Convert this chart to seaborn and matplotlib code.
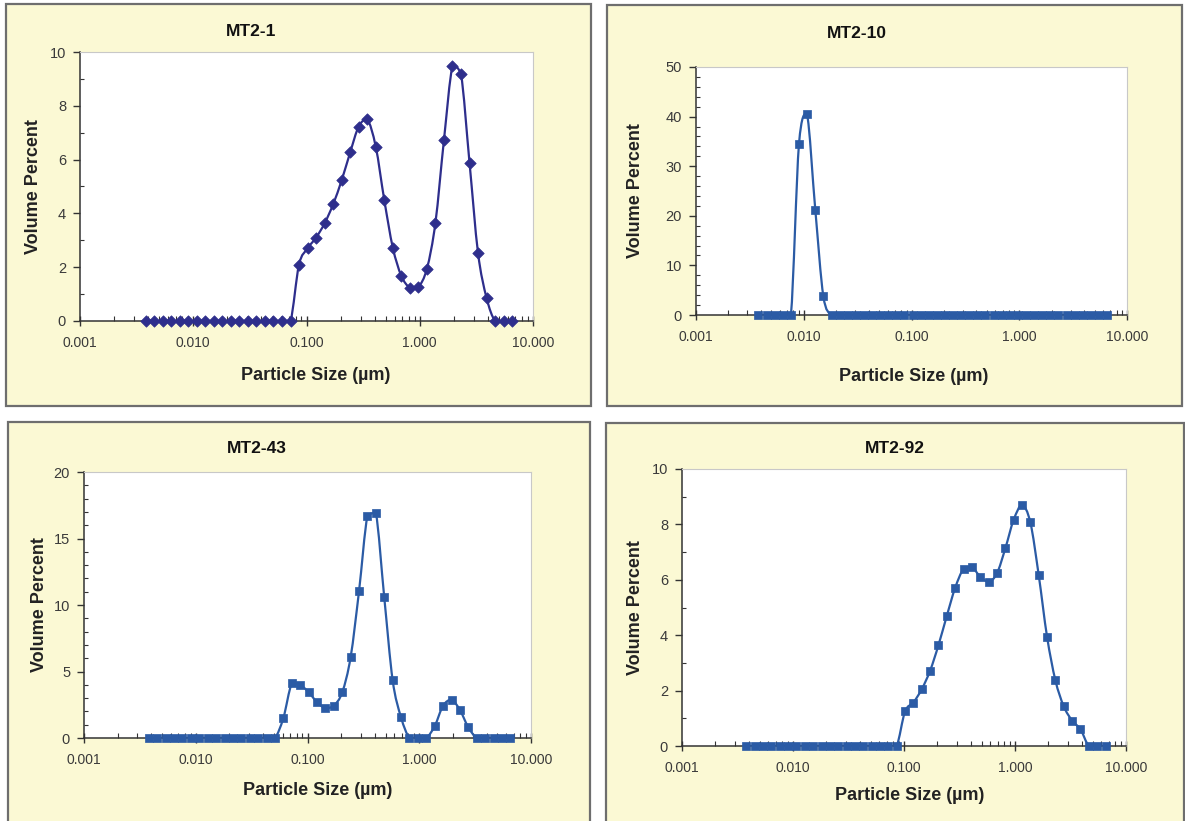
#Particle size distributions of four MT2 samples, one panel each
#Volume percent against particle size on a log axis

import numpy as np
import matplotlib
matplotlib.use("Agg")
import matplotlib.pyplot as plt
import seaborn as sns
from matplotlib.patches import Rectangle, PathPatch
from matplotlib.path import Path
from matplotlib.ticker import FixedLocator, FuncFormatter, LogLocator, MultipleLocator, NullFormatter

# channel sizes (um)
size_um = [0.00380, 0.00452, 0.00537, 0.00639, 0.00760, 0.00903, 0.0107, 0.0128,
           0.0152, 0.0181, 0.0215, 0.0255, 0.0304, 0.0361, 0.0430, 0.0511,
           0.0608, 0.0723, 0.0859, 0.1022, 0.1215, 0.1445, 0.1719, 0.2044,
           0.2431, 0.2890, 0.3437, 0.4088, 0.4861, 0.5781, 0.6874, 0.8175,
           0.972, 1.156, 1.375, 1.635, 1.945, 2.312, 2.750, 3.270,
           3.889, 4.624, 5.500, 6.540]

mt2_1 = [0, 0, 0, 0, 0, 0, 0, 0, 0, 0, 0, 0, 0, 0, 0, 0, 0, 0,
         2.1, 2.7, 3.1, 3.63, 4.34, 5.23, 6.27, 7.23, 7.5, 6.48, 4.5, 2.73,
         1.68, 1.24, 1.27, 1.94, 3.65, 6.72, 9.47, 9.18, 5.89, 2.53, 0.86,
         0, 0, 0]

mt2_10 = [0, 0, 0, 0, 0, 34.5, 40.6, 21.2, 3.8,
          0, 0, 0, 0, 0, 0, 0, 0, 0, 0, 0, 0, 0, 0, 0, 0, 0, 0, 0, 0, 0,
          0, 0, 0, 0, 0, 0, 0, 0, 0, 0, 0, 0, 0, 0]

mt2_43 = [0, 0, 0, 0, 0, 0, 0, 0, 0, 0, 0, 0, 0, 0, 0, 0,
          1.5, 4.1, 4.0, 3.45, 2.7, 2.25, 2.43, 3.43, 6.07, 11.03, 16.67, 16.92,
          10.58, 4.34, 1.55, 0, 0, 0, 0.9, 2.43, 2.88, 2.1, 0.8,
          0, 0, 0, 0, 0]

mt2_92 = [0, 0, 0, 0, 0, 0, 0, 0, 0, 0, 0, 0, 0, 0, 0, 0, 0, 0, 0,
          1.25, 1.57, 2.05, 2.72, 3.64, 4.7, 5.71, 6.39, 6.46, 6.11, 5.93,
          6.23, 7.13, 8.16, 8.7, 8.07, 6.17, 3.94, 2.37, 1.43, 0.92, 0.6,
          0, 0, 0]

titles = ["MT2-1", "MT2-10", "MT2-43", "MT2-92"]
x_ticks = [0.001, 0.01, 0.1, 1, 10]

W, H = 1185, 821


def fig_box(l, t, r, b):
    return [l / W, 1 - b / H, (r - l) / W, (b - t) / H]


def smooth_path(x, y):
    # smoothed line: cubic bezier in log-x space, control points kept
    # inside each segment's y range so it does not overshoot
    lx = np.log10(x)
    y = np.asarray(y, dtype=float)
    n = len(lx)
    verts = [(x[0], y[0])]
    codes = [Path.MOVETO]
    for i in range(n - 1):
        a = max(i - 1, 0)
        d = min(i + 2, n - 1)
        lo, hi = min(y[i], y[i + 1]), max(y[i], y[i + 1])
        c1x = lx[i] + (lx[i + 1] - lx[a]) / 6
        c1y = np.clip(y[i] + (y[i + 1] - y[a]) / 6, lo, hi)
        c2x = lx[i + 1] - (lx[d] - lx[i]) / 6
        c2y = np.clip(y[i + 1] - (y[d] - y[i]) / 6, lo, hi)
        verts += [(10 ** c1x, c1y), (10 ** c2x, c2y), (x[i + 1], y[i + 1])]
        codes += [Path.CURVE4] * 3
    return Path(verts, codes)


def main():
    sns.set_style("white")
    plt.rcParams["font.family"] = ["Liberation Sans", "DejaVu Sans"]

    fig = plt.figure(figsize=(W / 100, H / 100), dpi=100)
    fig.patch.set_facecolor("white")

    panels = [
        # panel box, plot box, title xy, ylabel x, xlabel xy
        dict(box=(6, 4, 591, 406), plot=(80, 52, 533, 321), title=(251, 32),
             ylab=34, xlab=(316, 375), data=mt2_1, ymax=10, major=2, minor=1,
             color="#2E2E8C", marker="D", ms=34),
        dict(box=(607, 5, 1182, 406), plot=(696, 67, 1127, 315), title=(857, 33),
             ylab=635, xlab=(914, 376), data=mt2_10, ymax=50, major=10, minor=2,
             color="#2B5BA5", marker="s", ms=28),
        dict(box=(8, 422, 590, 823), plot=(84, 472, 531, 738), title=(257, 448),
             ylab=40, xlab=(318, 790), data=mt2_43, ymax=20, major=5, minor=1,
             color="#2B5BA5", marker="s", ms=28),
        dict(box=(606, 423, 1184, 823), plot=(682, 469, 1126, 746), title=(895, 448),
             ylab=635, xlab=(910, 795), data=mt2_92, ymax=10, major=2, minor=1,
             color="#2B5BA5", marker="s", ms=28),
    ]

    for p, title in zip(panels, titles):
        l, t, r, b = p["box"]
        fig.add_artist(Rectangle((l / W, 1 - b / H), (r - l) / W, (b - t) / H,
                                 transform=fig.transFigure, facecolor="#FBF9D4",
                                 edgecolor="#6E6E6E", linewidth=1.6, zorder=0))

        pl, pt, pr, pb = p["plot"]
        ax = fig.add_axes(fig_box(pl, pt, pr, pb))
        ax.set_facecolor("white")
        ax.set_xscale("log")

        ax.add_patch(PathPatch(smooth_path(size_um, p["data"]), facecolor="none",
                               edgecolor=p["color"], linewidth=1.6, zorder=2))
        sns.scatterplot(x=size_um, y=p["data"], ax=ax, marker=p["marker"], s=p["ms"],
                        color=p["color"], edgecolor=p["color"], linewidth=0.5,
                        clip_on=False, zorder=3, legend=False)

        ax.set_xlim(0.001, 10)
        ax.set_ylim(0, p["ymax"])

        ax.xaxis.set_major_locator(FixedLocator(x_ticks))
        ax.xaxis.set_major_formatter(FuncFormatter(lambda v, pos: f"{v:.3f}"))
        ax.xaxis.set_minor_locator(LogLocator(base=10, subs=np.arange(2, 10), numticks=20))
        ax.xaxis.set_minor_formatter(NullFormatter())
        ax.yaxis.set_major_locator(MultipleLocator(p["major"]))
        ax.yaxis.set_minor_locator(MultipleLocator(p["minor"]))

        ax.tick_params(axis="x", which="major", direction="inout", length=7, width=1,
                       color="#333333", pad=7, labelsize=10, labelcolor="#3A3A3A")
        ax.tick_params(axis="x", which="minor", direction="in", length=3.5, width=0.8,
                       color="#333333")
        ax.tick_params(axis="y", which="major", direction="out", length=5, width=1,
                       color="#333333", pad=5, labelsize=10.5, labelcolor="#3A3A3A")
        ax.tick_params(axis="y", which="minor", direction="in", length=3, width=0.8,
                       color="#333333")
        ax.tick_params(bottom=True, left=True, which="both")

        for side in ["left", "bottom"]:
            ax.spines[side].set_color("#333333")
            ax.spines[side].set_linewidth(1.1)
        for side in ["top", "right"]:
            ax.spines[side].set_color("#C8C8C8")
            ax.spines[side].set_linewidth(0.8)

        ax.set_xlabel("Particle Size (µm)", fontsize=13, fontweight="bold", color="#222222")
        ax.set_ylabel("Volume Percent", fontsize=13, fontweight="bold", color="#222222")
        ax.xaxis.set_label_coords((p["xlab"][0] - pl) / (pr - pl), (pb - p["xlab"][1]) / (pb - pt))
        ax.yaxis.set_label_coords((p["ylab"] - pl) / (pr - pl), 0.5)
        ax.xaxis.label.set_verticalalignment("center")
        ax.yaxis.label.set_verticalalignment("center")

        fig.text(p["title"][0] / W, 1 - p["title"][1] / H, title, ha="center", va="center",
                 fontsize=12.5, fontweight="bold", color="#111111")

    plt.savefig("out.png", dpi=100)


if __name__ == "__main__":
    main()
